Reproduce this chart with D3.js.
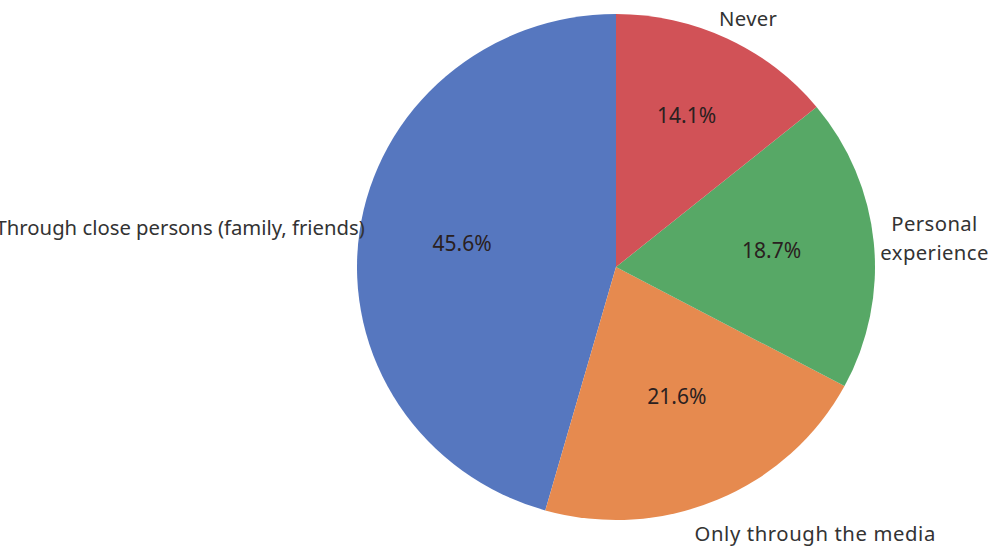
<!DOCTYPE html>
<html><head><meta charset="utf-8">
<script src="https://cdn.jsdelivr.net/npm/d3@7"></script>
<style>html,body{margin:0;padding:0;background:#fff;}svg{display:block;}</style>
</head><body>
<svg id="chart" width="991" height="546"></svg>
<script>
const categories = ["Through close persons (family, friends)", "Only through the media", "Personal experience", "Never"];
const values = [45.6, 21.6, 18.7, 14.1];
const colors = ["#5677bf", "#e68a4f", "#57a866", "#d15257"];
const labelLines = [["Through close persons (family, friends)"], ["Only through the media"], ["Personal", "experience"], ["Never"]];

const W = 991, H = 546;
const cx = 616, cy = 267, rx = 259, ry = 253;
const layout = [
  {anchor: "end", dx: 31, dy: -2, pdx: 0, pdy: -3, ls: 0},
  {anchor: "start", dx: -33, dy: 10, pdx: 0, pdy: -11, ls: 0.6},
  {anchor: "middle", dx: 35, dy: -2, pdx: 1, pdy: -2, ls: 0.4},
  {anchor: "start", dx: -19, dy: 2, pdx: 4, pdy: -15, ls: 0.3}
];

const svg = d3.select("#chart");
const data = categories.map((c, i) => ({cat: c, value: values[i], i}));
const pie = d3.pie().value(d => d.value).sort(null)
  .startAngle(0).endAngle(-2 * Math.PI);
const arcs = pie(data);
const arc = d3.arc().innerRadius(0).outerRadius(rx);

const g = svg.append("g").attr("transform", `translate(${cx},${cy}) scale(1,${ry / rx})`);
g.selectAll("path").data(arcs).join("path")
  .attr("d", arc)
  .attr("fill", d => colors[d.data.i])
  .attr("stroke", "none");

function pos(d, f) {
  const a = (d.startAngle + d.endAngle) / 2;
  return [cx + Math.sin(a) * rx * f, cy - Math.cos(a) * ry * f];
}

const fmt = d3.format(".1f");
svg.selectAll("text.pct").data(arcs).join("text")
  .attr("class", "pct")
  .attr("x", d => pos(d, 0.6)[0] + layout[d.data.i].pdx)
  .attr("y", d => pos(d, 0.6)[1] + layout[d.data.i].pdy)
  .attr("text-anchor", "middle")
  .attr("dominant-baseline", "central")
  .attr("font-family", "Noto Sans, sans-serif")
  .attr("font-size", 21)
  .attr("fill", "#2a2020")
  .text(d => fmt(d.data.value) + "%");

const lab = svg.selectAll("text.lab").data(arcs).join("text")
  .attr("class", "lab")
  .attr("text-anchor", d => layout[d.data.i].anchor)
  .attr("font-family", "Noto Sans, sans-serif")
  .attr("font-size", 20.3)
  .attr("letter-spacing", d => layout[d.data.i].ls)
  .attr("fill", "#333");
lab.each(function(d) {
  const p = pos(d, 1.1), L = layout[d.data.i], lines = labelLines[d.data.i];
  const lh = 29;
  const y0 = p[1] + L.dy - (lines.length - 1) * lh / 2;
  d3.select(this).selectAll("tspan").data(lines).join("tspan")
    .attr("x", p[0] + L.dx)
    .attr("y", (t, k) => y0 + k * lh)
    .attr("dominant-baseline", "central")
    .text(t => t);
});
</script>
</body></html>
